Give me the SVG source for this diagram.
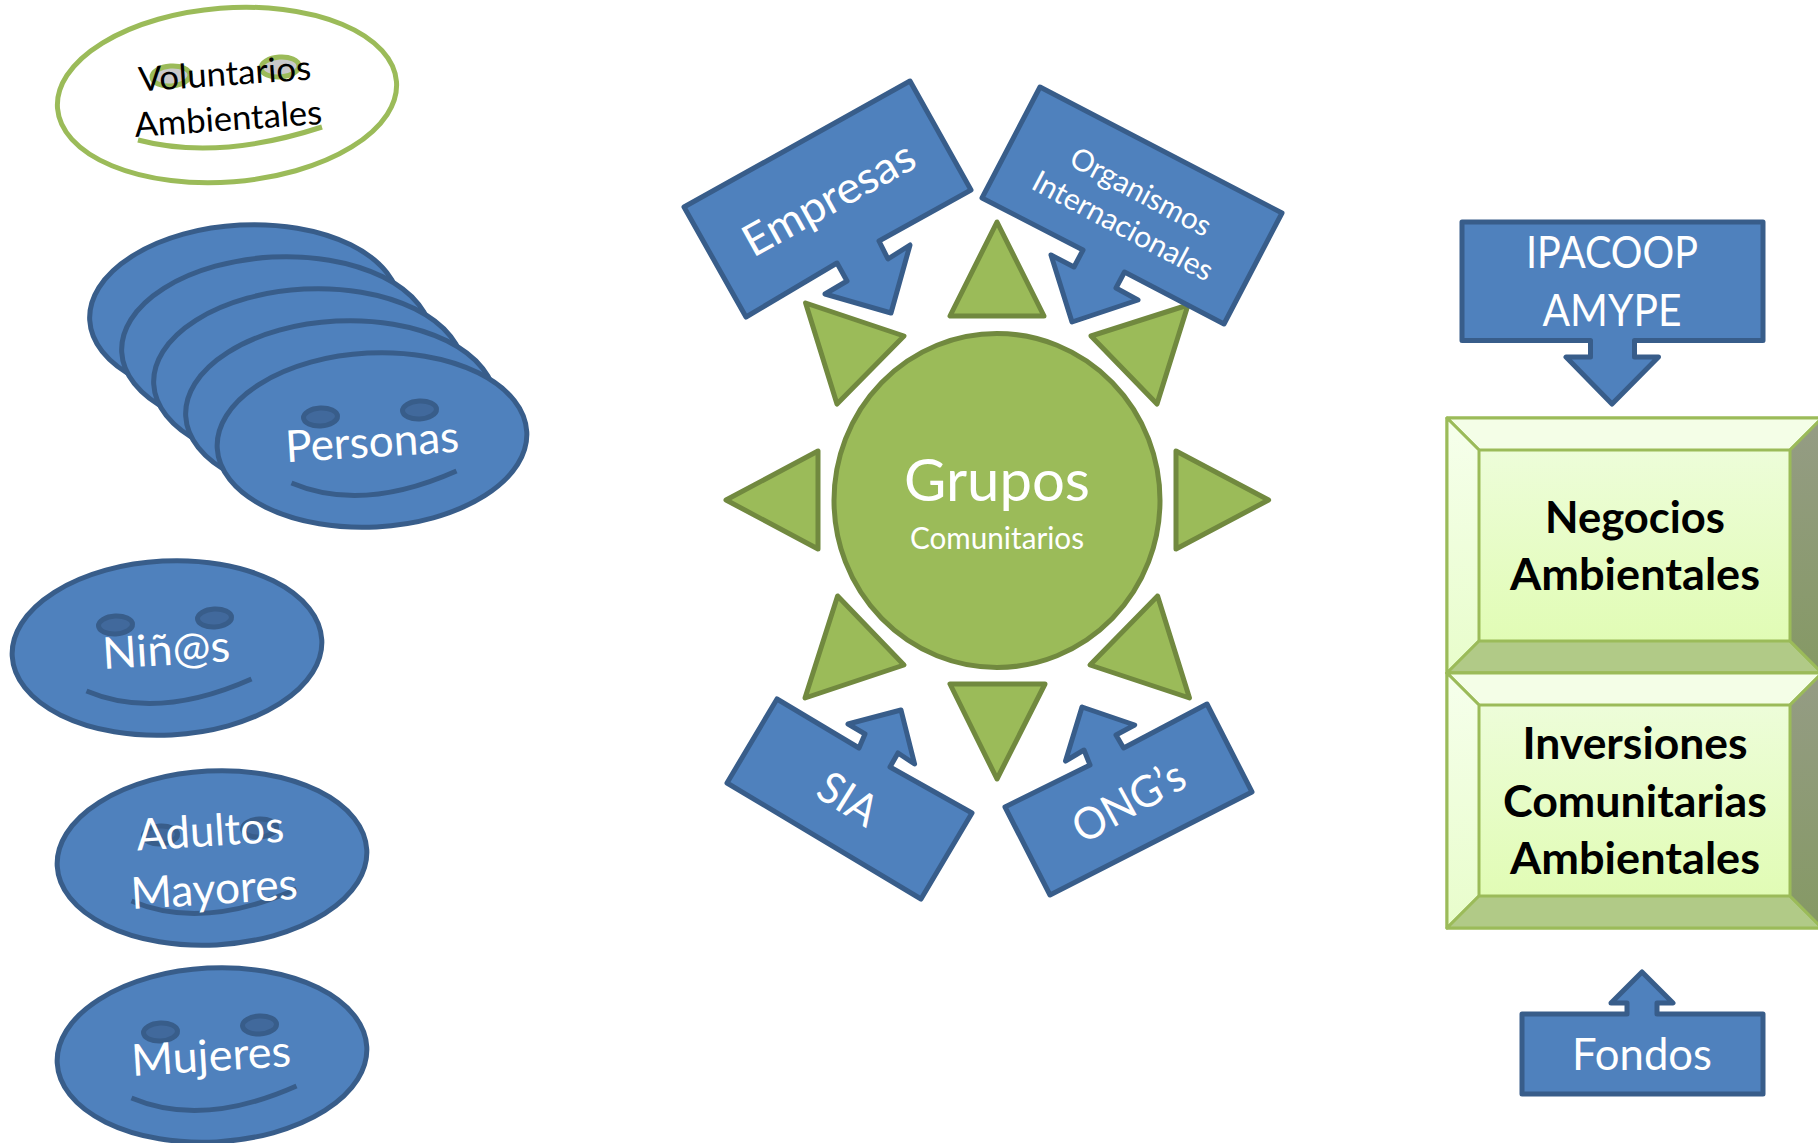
<svg xmlns="http://www.w3.org/2000/svg" width="1818" height="1143" viewBox="0 0 1818 1143">
<style>
text{font-family:Lato,"Liberation Sans",sans-serif;text-anchor:middle}
.w{fill:#fff}
.b{fill:#000}
.s47{font-size:44px}
.s36{font-size:34px}
.s32{font-size:30px}
.bd{font-size:44px;font-weight:700;fill:#000}
.blue{fill:#4f81bd;stroke:#385d8a;stroke-width:5;stroke-linejoin:round}
.eye{fill:#41699c;stroke:#385d8a;stroke-width:5}
.mouth{fill:none;stroke:#385d8a;stroke-width:5}
.tri{fill:#9bbb59;stroke:#71893f;stroke-width:5;stroke-linejoin:round}
.bv{stroke:#9bbb59;stroke-width:3;stroke-linejoin:round}
</style>
<defs>
<g id="face">
<ellipse class="blue" rx="155" ry="87" transform="rotate(-3)"/>
<ellipse class="eye" cx="-51.5" cy="-23" rx="17" ry="9" transform="rotate(-3 -51.5 -23)"/>
<ellipse class="eye" cx="47.5" cy="-30" rx="17" ry="9" transform="rotate(-3 47.5 -30)"/>
<path class="mouth" d="M-80.5,43 Q-10,73 84.5,31"/>
</g>
<linearGradient id="gf" x1="0" y1="0" x2="0" y2="1"><stop offset="0" stop-color="#effddf"/><stop offset="1" stop-color="#dffcaf"/></linearGradient>
<linearGradient id="gl" x1="0" y1="0" x2="0" y2="1"><stop offset="0" stop-color="#f6ffec"/><stop offset="1" stop-color="#e8fdcb"/></linearGradient>
<linearGradient id="gr" x1="0" y1="0" x2="0" y2="1"><stop offset="0" stop-color="#959c85"/><stop offset="1" stop-color="#859964"/></linearGradient>
<g id="bevel">
<rect class="bv" x="0" y="0" width="375" height="255" fill="url(#gf)"/>
<path class="bv" fill="#f4fee7" d="M0,0H375L343,32H32Z"/>
<path class="bv" fill="url(#gl)" d="M0,0L32,32V223L0,255Z"/>
<path class="bv" fill="#b1ca87" d="M0,255L32,223H343L375,255Z"/>
<path class="bv" fill="url(#gr)" d="M375,0L343,32V223L375,255Z"/>
</g>
</defs>

<g id="voluntarios">
<ellipse cx="227" cy="95" rx="170" ry="87" transform="rotate(-4.5 227 95)" fill="#fff" stroke="#9bbb59" stroke-width="5"/>
<ellipse cx="171" cy="76" rx="19" ry="10" transform="rotate(-4 171 76)" fill="#c9c9c9" stroke="#9bbb59" stroke-width="5"/>
<ellipse cx="280" cy="67" rx="19" ry="10" transform="rotate(-4 280 67)" fill="#c9c9c9" stroke="#9bbb59" stroke-width="5"/>
<path d="M138,140 Q218,161 322,127" fill="none" stroke="#9bbb59" stroke-width="5"/>
<text class="b s36" transform="translate(225.5 85.5) rotate(-4)" textLength="173" lengthAdjust="spacingAndGlyphs">Voluntarios</text>
<text class="b s36" transform="translate(229 130.5) rotate(-4)" textLength="188" lengthAdjust="spacingAndGlyphs">Ambientales</text>
</g>

<g id="personas">
<ellipse class="blue" cx="244.5" cy="312" rx="155" ry="87" transform="rotate(-3 244.5 312)"/>
<ellipse class="blue" cx="276.5" cy="344" rx="155" ry="87" transform="rotate(-3 276.5 344)"/>
<ellipse class="blue" cx="308.5" cy="376" rx="155" ry="87" transform="rotate(-3 308.5 376)"/>
<ellipse class="blue" cx="340.5" cy="408" rx="155" ry="87" transform="rotate(-3 340.5 408)"/>
<use href="#face" transform="translate(372 440)"/>
<text class="w s47" transform="translate(373 457) rotate(-3.5)" textLength="174" lengthAdjust="spacingAndGlyphs">Personas</text>
</g>
<g id="ninos">
<use href="#face" transform="translate(167 648)"/>
<text class="w s47" transform="translate(167 665) rotate(-3.5)" textLength="128" lengthAdjust="spacingAndGlyphs">Niñ@s</text>
</g>
<g id="adultos">
<use href="#face" transform="translate(212 858)"/>
<text class="w s47" transform="translate(211 846) rotate(-3.5)" textLength="148" lengthAdjust="spacingAndGlyphs">Adultos</text>
<text class="w s47" transform="translate(215 904) rotate(-3.5)" textLength="167" lengthAdjust="spacingAndGlyphs">Mayores</text>
</g>
<g id="mujeres">
<use href="#face" transform="translate(212 1055)"/>
<text class="w s47" transform="translate(212 1071) rotate(-3.5)" textLength="160" lengthAdjust="spacingAndGlyphs">Mujeres</text>
</g>

<g id="grupos">
<ellipse cx="997" cy="500.5" rx="163" ry="167" fill="#9bbb59" stroke="#71893f" stroke-width="5"/>
<text class="w" x="997" y="501" font-size="58" textLength="186" lengthAdjust="spacingAndGlyphs">Grupos</text>
<text class="w s32" x="997" y="549" textLength="174" lengthAdjust="spacingAndGlyphs">Comunitarios</text>
</g>
<g id="rayos">
<polygon class="tri" points="997,222 950,316 1044,316"/>
<polygon class="tri" points="805.6,303 904,336 837,404"/>
<polygon class="tri" points="1188,305 1091,336 1157,404"/>
<polygon class="tri" points="726,500 818,451 818,549"/>
<polygon class="tri" points="1268.6,500 1176,451 1176,549"/>
<polygon class="tri" points="837.6,596 904,665 805,698"/>
<polygon class="tri" points="1157.6,596 1090,665 1189.5,698"/>
<polygon class="tri" points="950,684 1045,684 997,779"/>
</g>

<g id="empresas">
<path class="blue" d="M910,81L971,190L879,241L888,259L910,245L891,313L825,294L847,281L837,263L746,317L684,207Z"/>
<text class="w s47" transform="translate(836 212) rotate(-29)" textLength="190" lengthAdjust="spacingAndGlyphs">Empresas</text>
</g>
<g id="organismos">
<path class="blue" d="M1040,87L1282,213L1224,324L1124.5,272L1116,288L1138,300L1072,322L1051,255L1074,267L1083,250L982,198Z"/>
<text class="w s32" transform="translate(1136 201) rotate(28)" textLength="155" lengthAdjust="spacingAndGlyphs">Organismos</text>
<text class="w s32" transform="translate(1118 235) rotate(28)" textLength="200" lengthAdjust="spacingAndGlyphs">Internacionales</text>
</g>
<g id="sia">
<path class="blue" d="M777,699L859,748L865,734L848,724L901,710L914.6,764L898,753L890,767L972,813L921,899L727,783Z"/>
<text class="w s47" transform="translate(840 812) rotate(32)" textLength="62" lengthAdjust="spacingAndGlyphs">SIA</text>
</g>
<g id="ongs">
<path class="blue" d="M1005,807L1090,765L1084,750L1065.5,761L1082,707L1134.7,725L1116,735L1123.6,748L1207,704L1252,792L1050,895Z"/>
<text class="w s47" transform="translate(1136 815) rotate(-29)" textLength="122" lengthAdjust="spacingAndGlyphs">ONG’s</text>
</g>

<g id="negocios">
<use href="#bevel" transform="translate(1447 418)"/>
<text class="bd" x="1635" y="533" textLength="180" lengthAdjust="spacingAndGlyphs">Negocios</text>
<text class="bd" x="1635" y="590" textLength="250" lengthAdjust="spacingAndGlyphs">Ambientales</text>
</g>
<g id="inversiones">
<use href="#bevel" transform="translate(1447 673)"/>
<text class="bd" x="1635" y="759" textLength="225" lengthAdjust="spacingAndGlyphs">Inversiones</text>
<text class="bd" x="1635" y="817" textLength="264" lengthAdjust="spacingAndGlyphs">Comunitarias</text>
<text class="bd" x="1635" y="874" textLength="250" lengthAdjust="spacingAndGlyphs">Ambientales</text>
</g>
<g id="ipacoop">
<path class="blue" d="M1462,222H1763V340.5H1634.5V357H1658.5L1612,404L1566,357H1590.5V340.5H1462Z"/>
<text class="w s47" x="1612" y="268" textLength="172" lengthAdjust="spacingAndGlyphs">IPACOOP</text>
<text class="w s47" x="1612" y="326" textLength="139" lengthAdjust="spacingAndGlyphs">AMYPE</text>
</g>
<g id="fondos">
<path class="blue" d="M1522,1014H1627V1003H1611L1642,972L1673,1003H1657V1014H1763V1094H1522Z"/>
<text class="w s47" x="1642" y="1070" textLength="140" lengthAdjust="spacingAndGlyphs">Fondos</text>
</g>
<g id="connectors"></g>
</svg>
